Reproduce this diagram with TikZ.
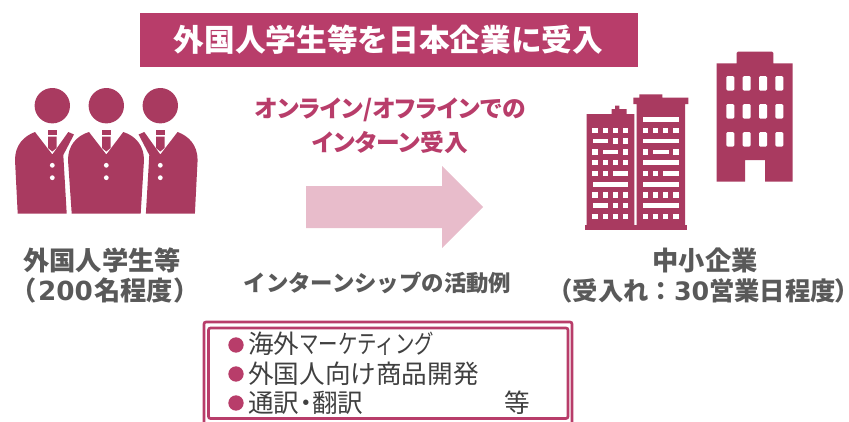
\documentclass[tikz,border=0pt]{standalone}
\usepackage{graphicx}
\usepackage{fontspec}
\setmainfont{Noto Sans CJK JP}
\newfontfamily\latinb{DejaVu Sans}[BoldFont={DejaVu Sans Bold}]
\newcommand{\pal}[1]{{\addfontfeatures{RawFeature=+palt}#1}}
\newcommand{\tight}[1]{\scalebox{0.76}[1]{#1}}
\newcommand{\fsz}[1]{\fontsize{#1}{#1}\selectfont}
\definecolor{rosemain}{HTML}{B83D6A}
\definecolor{roseicon}{HTML}{A93A60}
\definecolor{rosearrow}{HTML}{E8BCCB}
\definecolor{graytext}{HTML}{595959}
\definecolor{listtext}{HTML}{404040}
\tikzset{
  header/.style={fill=rosemain,text=white,font=\fsz{23}\bfseries,minimum width=373.5pt,minimum height=40.5pt,inner sep=0pt},
  pinktitle/.style={text=rosemain,font=\fsz{17.8}\bfseries,inner sep=0pt},
  graylabel/.style={text=graytext,font=\fsz{19.7}\bfseries,inner sep=0pt},
  widelabel/.style={text=graytext,font=\fsz{19}\bfseries,inner sep=0pt},
  smalllabel/.style={text=graytext,font=\fsz{16.8}\bfseries,inner sep=0pt},
  listitem/.style={text=listtext,font=\fsz{19.2},inner sep=0pt,anchor=west},
  bulletdot/.style={circle,fill=rosemain,minimum size=11.5pt,inner sep=0pt},
  framebox/.style={draw=rosemain,line width=2pt,rounded corners=1.5pt},
  icon/.style={fill=roseicon,draw=none}
}
\newcommand{\person}[1]{%
  \fill[icon] (#1,105.7) circle (17.7);
  \fill[icon] (#1-4.3,129.5) rectangle (#1+4.3,135);
  \fill[icon] (#1-4.3,136.7) -- (#1+4.3,136.7) -- (#1+4.3,148) -- (#1,151.5) -- (#1-4.3,148) -- cycle;
}
\newcommand{\buttons}[1]{%
  \fill[white] (#1,165.3) circle (2.4);
  \fill[white] (#1,177.7) circle (2.4);
}
\newcommand{\wdot}[2]{\fill[white] (#1-8,#2-8) rectangle (#1+8,#2+8);}
\newcommand{\wlong}[3]{\fill[white] (#1,#3-7) rectangle (#2,#3+7);}
\begin{document}
\begin{tikzpicture}[x=0.75pt,y=-0.75pt]
\useasboundingbox (0,0) rectangle (849,421);
\clip (0,0) rectangle (849,421);
% header
\node[header] (head) at (388.5,40) {外国人学生等を日本企業に受入};
% people
\fill[icon] (35,132) -- (52.3,154.5) -- (68.3,132) -- (74,134.5) -- (63.3,155) -- (66.7,213.5) -- (17.7,213.5) -- (15,160) .. controls (15,145) and (24,136) .. cycle;
\fill[icon] (177.6,132) -- (160.3,154.5) -- (144.3,132) -- (138.6,134.5) -- (149.3,155) -- (145.9,213.5) -- (194.9,213.5) -- (197.6,160) .. controls (197.6,145) and (188.6,136) .. cycle;
\fill[icon] (89,132) -- (106.3,154.5) -- (123.3,132) .. controls (136,136) and (144,146) .. (144,160) -- (140.7,213.5) -- (71.7,213.5) -- (68,160) .. controls (68,146) and (76,136) .. cycle;
\person{52.3}\person{106.3}\person{160.3}
\buttons{52.3}\buttons{106.3}\buttons{160.3}
% right building
\fill[icon] (716.7,63.3) -- (736.7,63.3) -- (736.7,53) -- (738,51.7) -- (772,51.7) -- (773.3,53) -- (773.3,63.3) -- (792.7,63.3) -- (792.7,181.7) -- (765,181.7) -- (765,160) -- (745,160) -- (745,181.7) -- (716.7,181.7) -- cycle;
\foreach \cx in {730.3,746.7,763,779.3} \foreach \cy in {83.3,111.3,139.3}
  \fill[white,rounded corners=1pt] (\cx-4,\cy-7.3) rectangle (\cx+4,\cy+7.3);
% left building
\begin{scope}[shift={(570,40)},x=0.25pt,y=-0.25pt]
\fill[icon] (50,222) -- (125,222) -- (125,207) -- (135,207) -- (135,197) -- (148,197) -- (148,207) -- (170,207) -- (170,222) -- (193,222) -- (193,556) -- (50,556) -- cycle;
\fill[icon] (200,192) -- (190,192) -- (190,173) -- (208,173) -- (208,163) -- (277,163) -- (277,173) -- (355,173) -- (355,192) -- (345,192) -- (345,556) -- (200,556) -- cycle;
\fill[icon] (45,555) rectangle (352,570);
\foreach \r in {271,368,465,530} \foreach \c in {75,106,136,167} {\wdot{\c}{\r}}
\foreach \r in {303,497} {\wlong{68}{115}{\r}\wdot{136}{\r}\wdot{167}{\r}}
\wdot{75}{336}\wlong{98}{145}{336}\wdot{167}{336}
\wdot{75}{400}\wdot{106}{400}\wlong{128}{175}{400}
\wlong{68}{175}{433}
\foreach \r in {271,465,530} \foreach \c in {226,257,287,318} {\wdot{\c}{\r}}
\foreach \r in {238,303,368,433,497} {\wlong{218}{326}{\r}}
\wdot{226}{336}\wlong{249}{296}{336}\wdot{318}{336}
\wdot{226}{400}\wdot{257}{400}\wlong{280}{326}{400}
\end{scope}
% arrow
\fill[rosearrow] (306,186) -- (442,186) -- (442,166) -- (483,207) -- (442,248) -- (442,228) -- (306,228) -- cycle;
% labels
\node[pinktitle] (t1) at (390,110) {\pal{オンライン/オフラインでの}};
\node[pinktitle] (t2) at (390,142) {\pal{インターン受入}};
\node[graylabel] (l1) at (102,260) {外国人学生等};
\node[graylabel] (l2) at (105,291) {（\kern1pt{\latinb\bfseries 200}\kern1pt名程度）};
\node[graylabel] (r1) at (705,260) {中小企業};
\node[widelabel] (r2) at (698,291) {（受入れ：{\latinb\bfseries 30}営業日程度\pal{）}};
\node[smalllabel] (act) at (377.5,283) {インターンシップの活動例};
% list frame
\draw[framebox] (204,322) rectangle (572,424);
\draw[framebox] (208.5,328) rectangle (568,418.5);
\node[bulletdot] (b1) at (236,345) {};
\node[bulletdot] (b2) at (236,374) {};
\node[bulletdot] (b3) at (236,403) {};
\node[listitem] (i1) at (248,344) {海外\tight{マーケティング}};
\node[listitem] (i2) at (248,374) {外国人向け商品開発};
\node[listitem] (i3) at (248,403) {\pal{通訳・翻訳}};
\node[listitem] (i4) at (504,403) {等};
\end{tikzpicture}
\end{document}
